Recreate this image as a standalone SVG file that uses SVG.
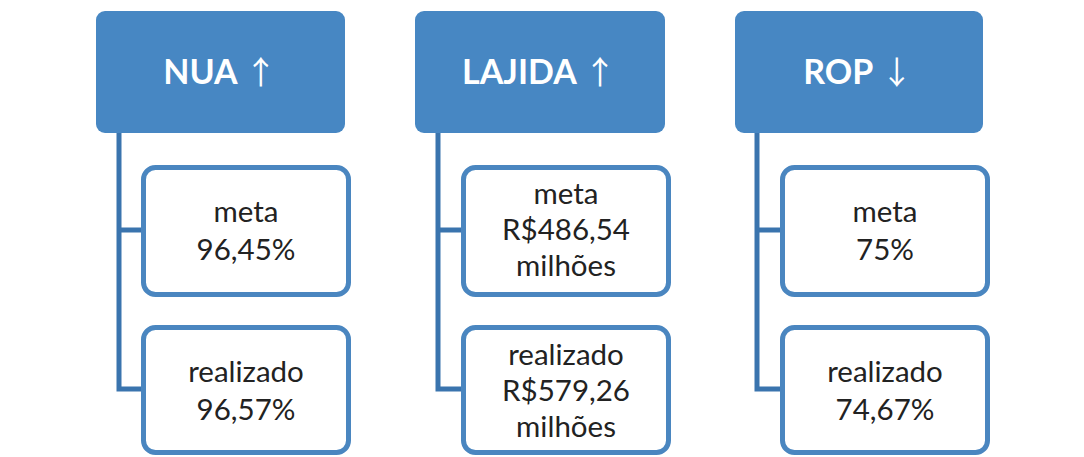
<svg xmlns="http://www.w3.org/2000/svg" width="1084" height="457" viewBox="0 0 1084 457">
<style>
.hdr{fill:#4787c3;}
.hdrt{font-family:"Lato","Open Sans",sans-serif;font-weight:bold;font-size:34px;fill:#ffffff;text-anchor:middle;}
.arr{font-family:"Noto Sans CJK JP",sans-serif;font-weight:normal;font-size:32px;}
.box{fill:#ffffff;stroke:#4a86c0;stroke-width:5;}
.bt{font-family:"Lato","Open Sans",sans-serif;font-size:29.5px;fill:#222222;text-anchor:middle;}
.con{fill:none;stroke:#3a74ae;stroke-width:5;}
</style>
<rect width="1084" height="457" fill="#ffffff"/>
<g id="connectors">
<path class="con" d="M119,133 V389 H143.5 M119,230 H143.5"/>
<path class="con" d="M438,133 V389 H463.5 M438,230 H463.5"/>
<path class="con" d="M757,133 V389 H782.5 M757,230 H782.5"/>
</g>
<g id="nua">
<rect class="hdr" x="96" y="11" width="249" height="122" rx="9"/>
<text class="hdrt" x="220" y="84">NUA <tspan class="arr">↑</tspan></text>
</g>
<g id="nua-meta">
<rect class="box" x="143.5" y="167.5" width="205" height="127" rx="12"/>
<text class="bt" x="246" y="222">meta</text>
<text class="bt" x="246" y="260">96,45%</text>
</g>
<g id="nua-real">
<rect class="box" x="143.5" y="327.5" width="205" height="125" rx="12"/>
<text class="bt" x="246" y="382">realizado</text>
<text class="bt" x="246" y="420">96,57%</text>
</g>
<g id="lajida">
<rect class="hdr" x="415" y="11" width="250" height="122" rx="9"/>
<text class="hdrt" x="539" y="84">LAJIDA <tspan class="arr">↑</tspan></text>
</g>
<g id="lajida-meta">
<rect class="box" x="463.5" y="167.5" width="205" height="127" rx="12"/>
<text class="bt" x="566" y="204">meta</text>
<text class="bt" x="566" y="240">R$486,54</text>
<text class="bt" x="566" y="276">milhões</text>
</g>
<g id="lajida-real">
<rect class="box" x="463.5" y="327.5" width="205" height="125" rx="12"/>
<text class="bt" x="566" y="365">realizado</text>
<text class="bt" x="566" y="401">R$579,26</text>
<text class="bt" x="566" y="437">milhões</text>
</g>
<g id="rop">
<rect class="hdr" x="735" y="11" width="248" height="122" rx="9"/>
<text class="hdrt" x="858" y="84">ROP <tspan class="arr">↓</tspan></text>
</g>
<g id="rop-meta">
<rect class="box" x="782.5" y="167.5" width="205" height="127" rx="12"/>
<text class="bt" x="885" y="222">meta</text>
<text class="bt" x="885" y="260">75%</text>
</g>
<g id="rop-real">
<rect class="box" x="782.5" y="327.5" width="205" height="125" rx="12"/>
<text class="bt" x="885" y="382">realizado</text>
<text class="bt" x="885" y="420">74,67%</text>
</g>
</svg>
